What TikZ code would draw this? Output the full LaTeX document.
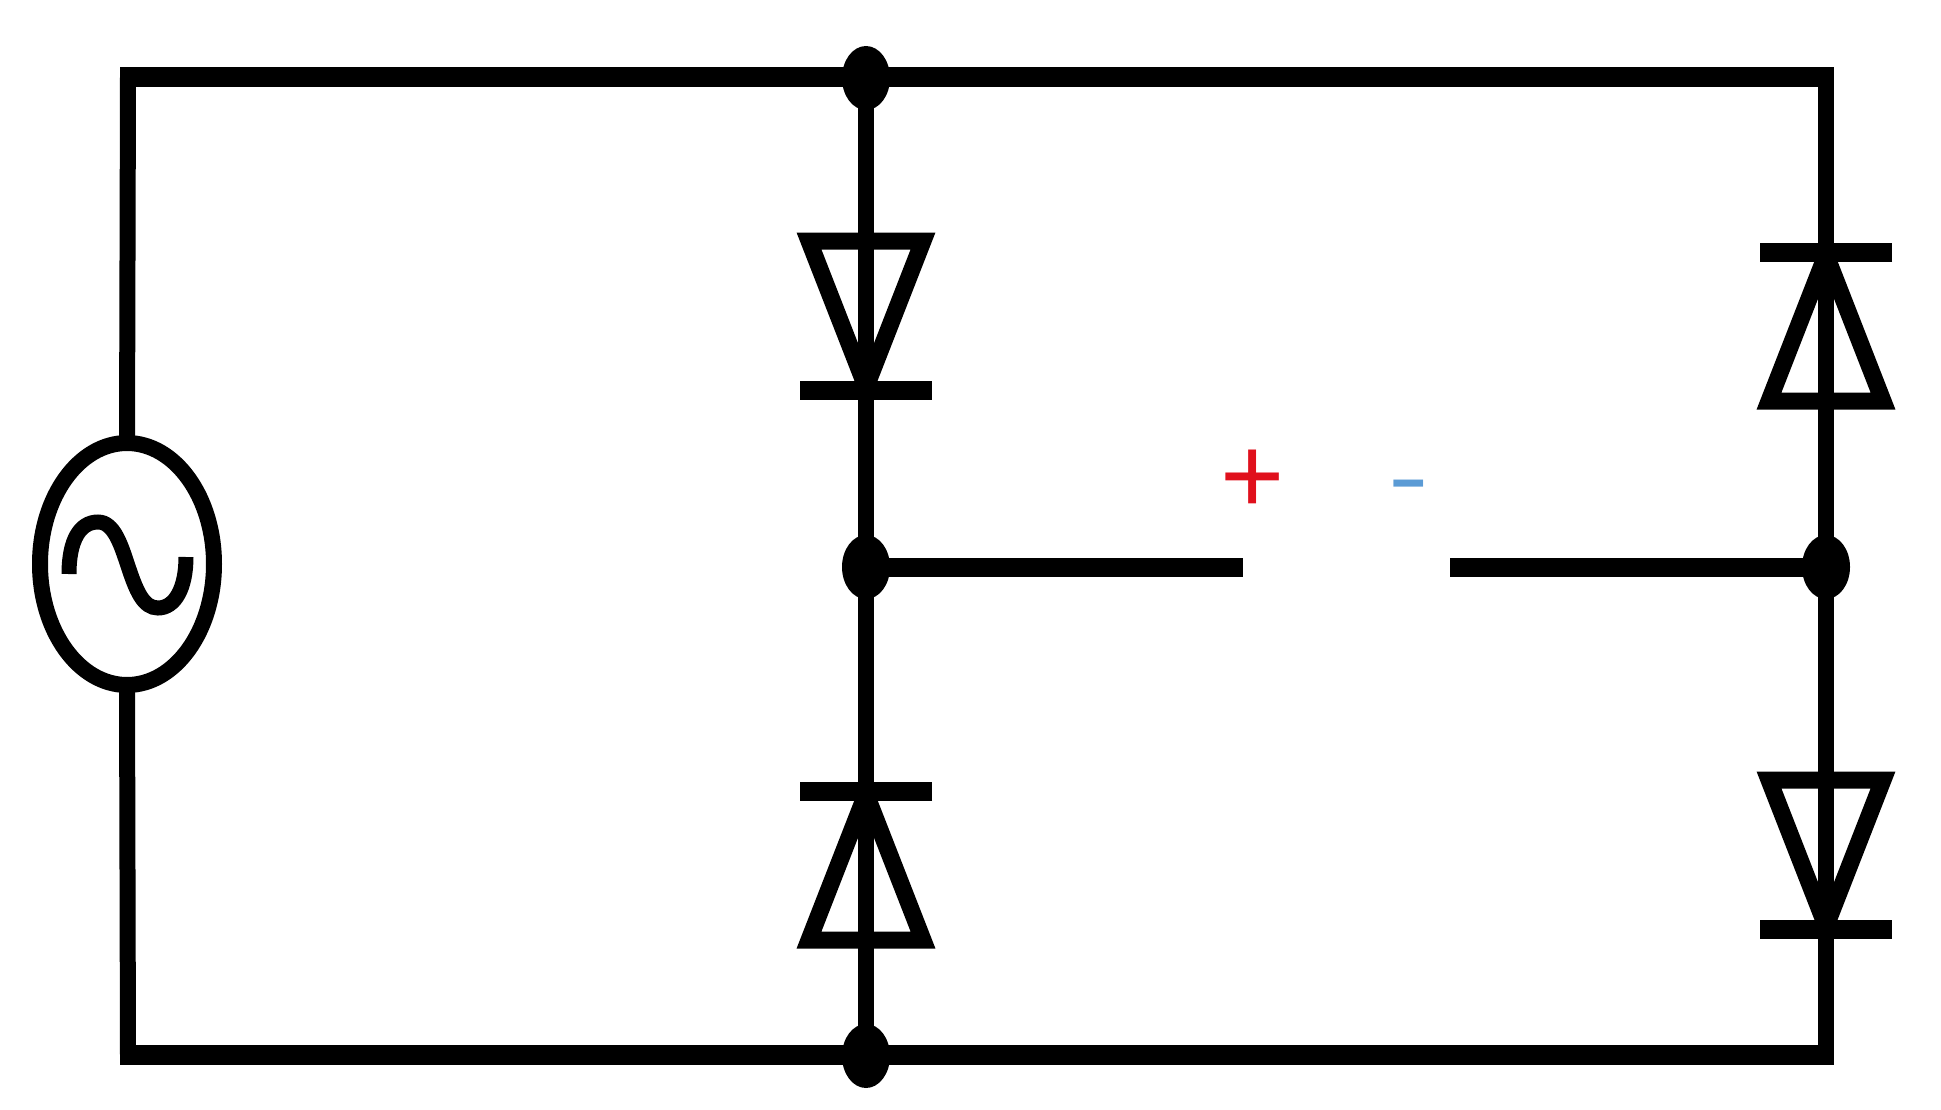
\documentclass[tikz,border=0pt]{standalone}
\usepackage{fontspec}
\setmainfont{Liberation Sans}
\usetikzlibrary{shapes.geometric}
\tikzset{
  wire/.style={line width=16pt,line cap=butt,line join=miter,black},
  rail/.style={line width=20pt,line cap=butt,line join=miter,black},
  stub/.style={line width=19pt,line cap=butt,black},
  junction/.style={ellipse,fill=black,draw=none,minimum width=48pt,minimum height=64pt,inner sep=0pt,outer sep=0pt},
  source/.style={ellipse,draw=black,line width=16pt,fill=none,minimum width=174pt,minimum height=242pt,inner sep=0pt,outer sep=0pt},
  polarity/.style={inner sep=0pt,outer sep=0pt},
  diode/.pic={
    \draw[line width=17pt,line join=miter,miter limit=10] (-57,0) -- (57,0) -- (0,146) -- cycle;
    \draw[line width=19pt,line cap=butt] (-66,149) -- (66,149);
  }
}
\definecolor{plusred}{HTML}{E0101C}
\definecolor{minusblue}{HTML}{5B9BD5}
\begin{document}
\begin{tikzpicture}[x=1pt,y=-1pt]
\useasboundingbox[fill=white] (0,0) rectangle (1941,1109);
\coordinate (tl) at (128,77);
\coordinate (tr) at (1826,77);
\coordinate (bl) at (128,1055);
\coordinate (br) at (1826,1055);
\coordinate (tlo) at (120,77);
\coordinate (tro) at (1834,77);
\coordinate (blo) at (120,1055);
\coordinate (bro) at (1834,1055);
\coordinate (gapl) at (1243,567);
\coordinate (gapr) at (1450,567);
\node[source] (src) at (127,564) {};
\node[junction] (jt) at (866,78) {};
\node[junction] (jm) at (866,567) {};
\node[junction] (jb) at (866,1056) {};
\node[junction] (jr) at (1826,567) {};
% wires
\draw[wire] (src.north) -- (tl);
\draw[wire] (src.south) -- (bl);
\draw[rail] (tlo) -- (tro);
\draw[rail] (blo) -- (bro);
\draw[wire] (tr) -- (jr.center) -- (br);
\draw[wire] (jt.center) -- (jb.center);
\draw[stub] (jm.center) -- (gapl);
\draw[stub] (jr.center) -- (gapr);
% diodes
\pic at (866,241) {diode};
\pic[rotate=180] at (866,940) {diode};
\pic[rotate=180] at (1826,401) {diode};
\pic at (1826,780) {diode};
% sine
\draw[line width=15pt,line cap=butt] (69,574) .. controls (69,540) and (80,522) .. (98,522) .. controls (114,522) and (121,545) .. (128,566) .. controls (136,590) and (143,608) .. (158,608) .. controls (175,608) and (186,588) .. (186,557);
% polarity
\node[polarity,text=plusred,font=\fontsize{110}{110}\selectfont] (plus) at (1253,482) {+};
\node[polarity,text=minusblue,font=\fontsize{90}{90}\selectfont,xscale=1.35,transform shape] (minus) at (1409,494) {-};
\end{tikzpicture}
\end{document}
